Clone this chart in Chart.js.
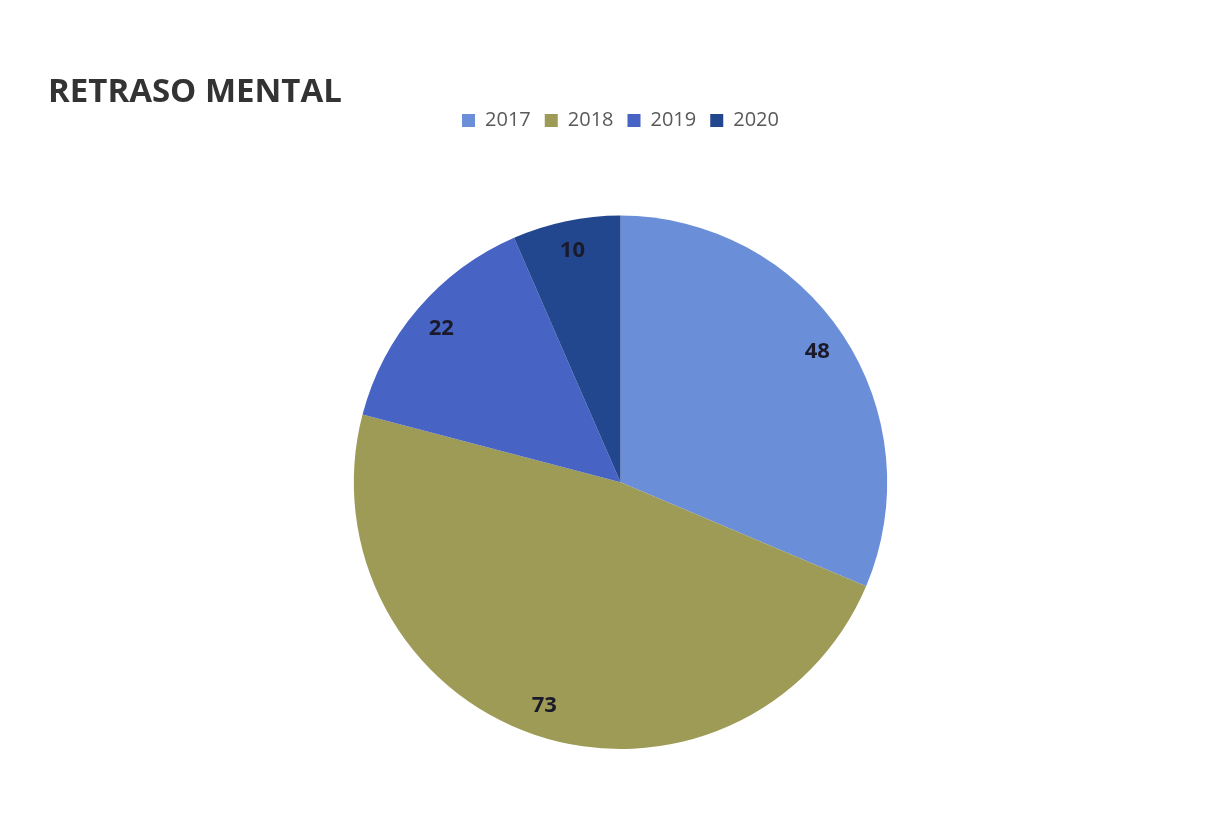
<!DOCTYPE html>
<html>
<head>
<meta charset="utf-8">
<script src="https://cdn.jsdelivr.net/npm/chart.js@4"></script>
<style>
  html, body { margin: 0; padding: 0; background: #ffffff; }
  #wrap { width: 1231px; height: 819px; }
</style>
</head>
<body>
<div id="wrap"><canvas id="myChart" width="1231" height="819"></canvas></div>
<script>
// chart data
const years = ['2017', '2018', '2019', '2020'];
const cases = [48, 73, 22, 10];
const sliceColors = ['#6b8ed8', '#9e9b57', '#4763c4', '#23478f'];

// draws the value inside each slice, near the rim
const sliceLabels = {
  id: 'sliceLabels',
  afterDatasetsDraw(chart) {
    const ctx = chart.ctx;
    const meta = chart.getDatasetMeta(0);
    ctx.save();
    ctx.font = "bold 22px 'Open Sans', sans-serif";
    ctx.fillStyle = '#1a1a2a';
    ctx.textAlign = 'center';
    ctx.textBaseline = 'middle';
    meta.data.forEach((arc, i) => {
      const p = arc.getProps(['x', 'y', 'startAngle', 'endAngle', 'outerRadius'], true);
      const mid = (p.startAngle + p.endAngle) / 2;
      const r = p.outerRadius * 0.885;
      ctx.fillText(cases[i], p.x + Math.cos(mid) * r, p.y + Math.sin(mid) * r);
    });
    ctx.restore();
  }
};

// extra room under the legend so the pie starts lower
const legendGap = {
  id: 'legendGap',
  beforeInit(chart) {
    const fit = chart.legend.fit;
    chart.legend.fit = function () {
      fit.bind(chart.legend)();
      this.height += 75;
    };
  }
};

const ctx = document.getElementById('myChart').getContext('2d');
new Chart(ctx, {
  type: 'pie',
  data: {
    labels: years,
    datasets: [{
      data: cases,
      backgroundColor: sliceColors,
      borderWidth: 0
    }]
  },
  options: {
    responsive: false,
    animation: false,
    layout: {
      padding: { left: 48, right: 38, top: 0, bottom: 70 }
    },
    plugins: {
      title: {
        display: true,
        text: 'RETRASO MENTAL',
        align: 'start',
        color: '#333333',
        font: { family: "'Open Sans', sans-serif", size: 33, weight: 'bold' },
        padding: { top: 73, bottom: -16 }
      },
      legend: {
        position: 'top',
        labels: {
          color: '#595959',
          font: { family: "'Open Sans', sans-serif", size: 20 },
          boxWidth: 13,
          boxHeight: 13,
          padding: 14
        }
      },
      tooltip: { enabled: false }
    }
  },
  plugins: [legendGap, sliceLabels]
});
</script>
</body>
</html>
